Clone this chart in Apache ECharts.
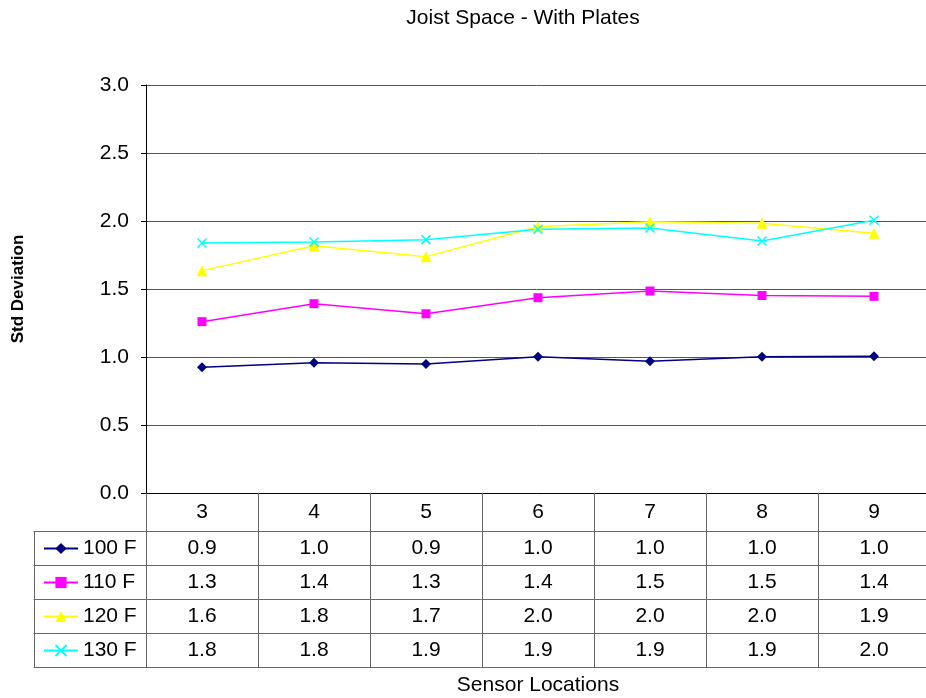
<!DOCTYPE html>
<html>
<head>
<meta charset="utf-8">
<script src="https://cdn.jsdelivr.net/npm/echarts@6/dist/echarts.min.js"></script>
<style>
  html, body { margin: 0; padding: 0; background: #fff; }
  #chart { width: 926px; height: 698px; }
</style>
</head>
<body>
<div id="chart"></div>
<script>
// sensor locations along the joist space
var locations = ['3', '4', '5', '6', '7', '8', '9'];
var seriesNames = ['100 F', '110 F', '120 F', '130 F'];
// std deviation
var f100 = [0.925, 0.958, 0.948, 1.002, 0.968, 1.002, 1.005];
var f110 = [1.26, 1.392, 1.318, 1.436, 1.485, 1.452, 1.446];
var f120 = [1.635, 1.818, 1.738, 1.958, 1.995, 1.983, 1.91];
var f130 = [1.838, 1.846, 1.863, 1.939, 1.949, 1.853, 2.005];
var yTicks = [0, 0.5, 1, 1.5, 2, 2.5, 3];

var rows = [f100, f110, f120, f130];
var colors = ['#000080', '#FF00FF', '#FFFF00', '#00FFFF'];
var symbols = ['diamond', 'rect', 'triangle', 'path://M0,0L10,10M10,0L0,10'];
var symbolSizes = [10, 9, 11, 9];

var font = 'Arial, "Liberation Sans", sans-serif';
var fs = 21;
var lineCol = '#666';

var myChart = echarts.init(document.getElementById('chart'));

// table rows: an extra grid whose bottom-side axes draw the cells
var tableCats = [''].concat(locations);
var xAxes = [{
    type: 'category',
    gridIndex: 0,
    data: locations,
    boundaryGap: true,
    axisLine: { lineStyle: { color: '#000', width: 1 } },
    axisTick: { show: true, length: 38, interval: 0, lineStyle: { color: lineCol } },
    axisLabel: { interval: 0, margin: 9, fontSize: fs, color: '#000', fontFamily: font },
    name: 'Sensor Locations',
    nameLocation: 'middle',
    nameGap: 182,
    nameTextStyle: { fontSize: fs, color: '#000', fontFamily: font },
    splitLine: { show: false }
}];
rows.forEach(function (vals, r) {
    xAxes.push({
        type: 'category',
        gridIndex: 1,
        position: 'bottom',
        offset: 34 * r,
        data: tableCats,
        boundaryGap: true,
        axisLine: { lineStyle: { color: lineCol, width: 1 } },
        axisTick: { show: true, length: 34, interval: 0, lineStyle: { color: lineCol } },
        axisLabel: {
            interval: 0, margin: 7, fontSize: fs, color: '#000', fontFamily: font,
            formatter: function (v, i) { return i === 0 ? '' : vals[i - 1].toFixed(1); }
        }
    });
});
xAxes.push({
    type: 'category',
    gridIndex: 1,
    position: 'bottom',
    offset: 136,
    data: tableCats,
    axisLine: { lineStyle: { color: lineCol, width: 1 } },
    axisTick: { show: false },
    axisLabel: { show: false }
});

var series = rows.map(function (vals, i) {
    return {
        name: seriesNames[i],
        type: 'line',
        xAxisIndex: 0,
        yAxisIndex: 0,
        data: vals,
        symbol: symbols[i],
        symbolSize: symbolSizes[i],
        showAllSymbol: true,
        lineStyle: { color: colors[i], width: 1.5 },
        itemStyle: {
            color: colors[i],
            borderColor: colors[i],
            borderWidth: i === 3 ? 1.5 : 0
        },
        emphasis: { disabled: true },
        animation: false
    };
});

var option = {
    backgroundColor: '#fff',
    animation: false,
    title: {
        text: 'Joist Space - With Plates',
        left: 518,
        top: 3,
        textAlign: 'center',
        textStyle: { fontSize: fs, fontWeight: 'normal', color: '#000', fontFamily: font }
    },
    legend: {
        orient: 'vertical',
        left: 38,
        top: 533,
        itemWidth: 34,
        itemHeight: 14,
        itemGap: 13,
        data: seriesNames,
        textStyle: { fontSize: fs, color: '#000', fontFamily: font },
        selectedMode: false
    },
    grid: [
        { left: 146, width: 784, top: 85, height: 408, containLabel: false, outerBoundsMode: 'none' },
        { left: 34, width: 896, top: 431, height: 100, containLabel: false, outerBoundsMode: 'none' }
    ],
    xAxis: xAxes,
    yAxis: [{
        type: 'value',
        gridIndex: 0,
        min: 0,
        max: 3,
        interval: 0.5,
        name: 'Std Deviation',
        nameLocation: 'middle',
        nameGap: 119,
        nameTextStyle: { fontSize: 17, fontWeight: 'bold', color: '#000', fontFamily: font },
        axisLine: { show: true, lineStyle: { color: '#000' } },
        axisTick: { show: true, length: 5, lineStyle: { color: '#000' } },
        axisLabel: {
            margin: 17, fontSize: fs, color: '#000', fontFamily: font,
            formatter: function (v) { return yTicks.indexOf(v) >= 0 ? v.toFixed(1) : ''; }
        },
        splitLine: { show: true, lineStyle: { color: '#555', width: 1 } }
    }, {
        type: 'value',
        gridIndex: 1,
        show: false
    }],
    series: series
};

if (option && typeof option === 'object') {
    myChart.setOption(option, true);
}
</script>
</body>
</html>
